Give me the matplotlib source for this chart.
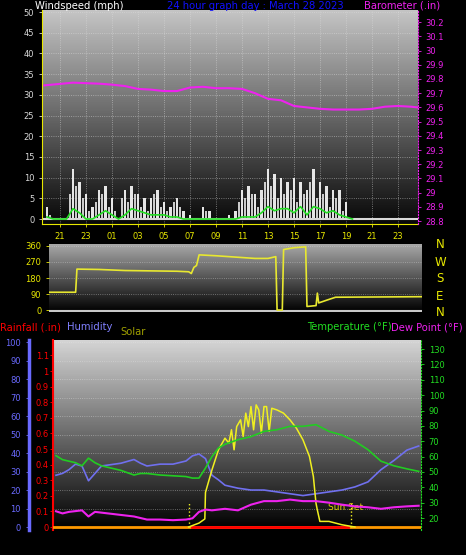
import numpy as np
import matplotlib
matplotlib.use("Agg")
import matplotlib.pyplot as plt
from matplotlib.colors import LinearSegmentedColormap

# ---- data (hours; 24 = midnight, 48 = next midnight) ----
baro_t = [19.8, 22, 24, 25, 26, 27, 28, 29, 30, 31, 32, 33, 34, 35, 36, 37, 38,
          39, 40, 41, 42, 43, 44, 45, 46, 47, 48, 48.5]
baro_v = [29.755, 29.774, 29.767, 29.76, 29.75, 29.73, 29.725, 29.715, 29.715,
          29.74, 29.745, 29.735, 29.735, 29.73, 29.70, 29.66, 29.65, 29.61, 29.60,
          29.59, 29.585, 29.585, 29.585, 29.59, 29.605, 29.61, 29.605, 29.6]

wind_t = list(np.arange(20, 44, 0.5))
gust = [3, 0, 0, 0, 12, 9, 6, 3, 7, 8, 5, 0, 7, 8, 6, 5, 5, 7, 4, 3, 5, 2, 1, 0,
        3, 2, 0, 0, 1, 2, 7, 8, 6, 7, 12, 11, 10, 9, 10, 9, 7, 12, 9, 8, 7, 7, 4, 0]
avg = [0.5, 0, 0, 0, 2.5, 1.5, 0, 0, 1, 2, 1, 0, 1, 2.5, 2, 1.5, 1, 1, 1, 0.5,
       0.5, 0, 0, 0, 0, 0, 0, 0, 0, 0, 0.5, 0.5, 0.5, 1.5, 3, 2, 2.5, 2.5, 1.5, 3,
       1, 3, 2.5, 1.5, 2, 1, 0.5, 0]
# intermediate (quarter-hour) gust readings
gust_mid = [1, 0, 0, 6, 8, 5, 2, 4, 6, 3, 2, 5, 4, 6, 3, 2, 6, 3, 2, 4, 3, 0, 0,
            0, 2, 0, 0, 0, 0, 4, 5, 6, 3, 9, 8, 5, 6, 7, 4, 6, 9, 5, 6, 3, 5, 2, 0, 0]

dir_t = [20.2, 22.2, 22.3, 24, 26, 28, 30, 30.9, 31.1, 31.3, 31.5, 31.7, 33, 34,
         35, 36, 37, 37.6, 37.7, 38.1, 38.2, 39, 39.9, 40.0, 40.7, 40.8, 40.9,
         41.5, 42.2, 48.85]
dir_v = [100, 100, 230, 228, 222, 220, 218, 215, 205, 240, 250, 310, 305, 300,
         295, 290, 290, 300, 0, 0, 340, 350, 355, 20, 25, 95, 40, 55, 72, 75]

clim_t = [20, 20.5, 21, 21.5, 22, 22.5, 23, 23.5, 24, 25, 26, 26.5, 27, 28, 29,
          30, 30.5, 31, 31.5, 32, 32.5, 33, 34, 35, 36, 37, 38, 39, 40, 40.5, 41,
          42, 43, 44, 45, 46, 47, 47.9]
humidity = [28, 29, 31, 34, 33, 25, 29, 33, 33.5, 34.5, 36.5, 34.5, 33, 34, 34,
            35.7, 38.5, 39.5, 37, 28, 25.5, 22.6, 21, 20, 20, 19, 18, 17, 18, 18.5,
            19, 20, 21.7, 24.4, 31, 36, 41.6, 43.8]
temperature = [60.6, 58, 57, 56, 54, 59, 56, 54, 53, 51, 48, 49, 49, 48, 47.5,
               47, 46, 46, 52.5, 60, 65.6, 68, 71, 73, 76.4, 77.5, 79.7, 79.7,
               80.8, 78.6, 76.4, 74, 70, 64.5, 57, 54, 52, 50.4]
dewpoint = [24.4, 23, 24, 24.5, 25, 21, 24, 23.5, 23, 22, 21, 20, 19, 19, 18.6,
            19, 19.8, 24, 25.5, 25, 25.5, 26, 25, 28.7, 31, 31, 32, 31, 31, 30.5,
            30, 28.7, 27.6, 27, 26, 27, 27.6, 28]

solar_t = [30.2, 31.0, 31.45, 31.5, 32.0, 32.5, 33.0, 33.3, 33.5, 33.7, 33.9,
           34.2, 34.4, 34.6, 34.8, 35.0, 35.2, 35.4, 35.6, 35.8, 36.0, 36.2,
           36.4, 36.6, 37.0, 37.5, 38.0, 38.5, 39.0, 39.5, 39.8, 40.0, 40.1,
           40.3, 41.0, 42.0, 43.0]
solar = [0, 21, 43, 185, 306, 413, 475, 448, 520, 413, 537, 573, 484, 609, 537,
         644, 520, 653, 626, 502, 644, 644, 511, 635, 626, 609, 573, 528, 466,
         377, 270, 128, 93, 30, 30, 12, 0]

rain_t = [19.8, 48.0]
rain = [0, 0]
sun_rise, sun_set = 30.2, 42.7

hour_ticks = list(range(21, 48, 2))
hour_labels = ["%02d" % (h % 24) for h in hour_ticks]

W, H = 466, 555
fig = plt.figure(figsize=(W / 100, H / 100), dpi=100, facecolor="black")
plt.rcParams["font.family"] = ["DejaVu Sans"]
FS = 6
TF = 7.2


def box(x0, y0, x1, y1):
    return fig.add_axes([x0 / W, 1 - y1 / H, (x1 - x0) / W, (y1 - y0) / H])


def gradient(ax, top, bottom):
    cmap = LinearSegmentedColormap.from_list("g", [bottom, top])
    x0, x1 = ax.get_xlim()
    y0, y1 = ax.get_ylim()
    ax.imshow(np.linspace(0, 1, 100)[:, None], extent=[x0, x1, y0, y1],
              origin="lower", aspect="auto", cmap=cmap, zorder=0)


def style(ax):
    for s in ax.spines.values():
        s.set_visible(False)
    ax.tick_params(colors="white", labelsize=FS, length=2, width=0.6)


# ---- top: wind & barometer ----
ax1 = box(42, 10, 418, 224)
ax1.set_xlim(19.615, 48.54)
ax1.set_ylim(-1.2, 50.5)
gradient(ax1, "#c4c4c4", "#080808")
style(ax1)
ax1.bar(wind_t, gust, width=0.18, color="#f2f2f2", alpha=0.95, zorder=2)
ax1.bar(np.array(wind_t) + 0.25, gust_mid, width=0.18, color="#e0e0e0", alpha=0.9, zorder=2)
ax1.plot(wind_t, avg, color="#22dd22", lw=1.2, zorder=3)
ax1.axhline(0, color="#d8d8d8", lw=1.5, zorder=2)
ax1.set_yticks(range(0, 51, 5))
ax1.tick_params(axis="y", colors="#d8d8d8", labelcolor="#d8d8d8")
ax1.set_xticks(hour_ticks)
ax1.set_xticklabels(hour_labels, color="#e8e800")
ax1.tick_params(axis="x", colors="#e8e800", pad=4)
ax1.grid(True, color="#e0e0e0", ls=":", lw=0.6, alpha=0.6)
ax1.spines["left"].set_visible(True)
ax1.spines["left"].set_color("#e8e800")
ax1.spines["bottom"].set_visible(True)
ax1.spines["bottom"].set_color("#e8e800")
ax1b = ax1.twinx()
ax1b.set_ylim(28.78, 30.285)
style(ax1b)
ax1b.plot(baro_t, baro_v, color="#ee22ee", lw=1.5)
bt = np.round(np.arange(28.8, 30.21, 0.1), 1)
ax1b.set_yticks(bt)
ax1b.set_yticklabels(["%g" % v for v in bt])
ax1b.tick_params(axis="y", colors="#ee22ee", labelcolor="#ee22ee")
ax1b.spines["right"].set_visible(True)
ax1b.spines["right"].set_color("#ee22ee")
ax1b.spines["right"].set_linestyle(":")

fig.text(35 / W, 1 - 6 / H, "Windspeed (mph)", color="white", fontsize=TF, va="center")
fig.text(255 / W, 1 - 6 / H, "24 hour graph day : March 28 2023", color="#1010ff",
         fontsize=TF, va="center", ha="center")
fig.text(440 / W, 1 - 6 / H, "Barometer (.in)", color="#ee22ee", fontsize=TF,
         va="center", ha="right")

# ---- middle: wind direction ----
ax2 = box(49, 244, 422, 312)
ax2.set_xlim(20.15, 48.85)
ax2.set_ylim(-11, 371)
gradient(ax2, "#a8a8a8", "#000000")
style(ax2)
ax2.plot(dir_t, dir_v, color="#e8e830", lw=1.2, zorder=3)
ax2.axhline(-4, color="#c8c8c8", lw=1.5, zorder=2)
ax2.set_yticks([0, 90, 180, 270, 360])
ax2.tick_params(axis="y", colors="#e8e800", labelcolor="#e8e800")
ax2.set_xticks([])
ax2.grid(True, axis="y", color="#e0e0e0", ls=":", lw=0.6, alpha=0.5)
for lbl, y in zip(["N", "W", "S", "E", "N"], [245, 262, 279, 296, 313]):
    fig.text(440 / W, 1 - y / H, lbl, color="#e8e800", fontsize=8.5, ha="center", va="center")

# ---- bottom: rain, humidity, solar, temperature, dew point ----
fig.text(0, 1 - 328 / H, "Rainfall (.in)", color="red", fontsize=TF, va="center")
fig.text(67 / W, 1 - 327 / H, "Humidity", color="#8080ff", fontsize=TF, va="center")
fig.text(120 / W, 1 - 332 / H, "Solar", color="#a0a000", fontsize=TF, va="center")
fig.text(392 / W, 1 - 327 / H, "Temperature (°F)", color="#22dd22", fontsize=TF,
         va="center", ha="right")
fig.text(463 / W, 1 - 327 / H, "Dew Point (°F)", color="#ee22ee", fontsize=TF,
         va="center", ha="right")

ax3 = box(53, 340, 421, 530)
ax3.set_xlim(19.77, 48.08)
ax3.set_ylim(12.2, 135.9)
gradient(ax3, "#d4d4d4", "#000000")
style(ax3)
ax3.set_yticks([])
ax3.set_xticks(hour_ticks)
ax3.set_xticklabels(hour_labels, color="#e8e800")
ax3.tick_params(axis="x", colors="#e8e800", length=0, pad=6)

# humidity axis (far left)
axh = ax3.twinx()
axh.set_ylim(-1.6, 101.1)
style(axh)
axh.yaxis.set_ticks_position("left")
axh.spines["left"].set_visible(True)
axh.spines["left"].set_position(("outward", 17))
axh.spines["left"].set_color("#6a6aff")
axh.spines["left"].set_linewidth(2.5)
axh.set_yticks(range(0, 101, 10))
axh.tick_params(axis="y", colors="#6a6aff", labelcolor="#6a6aff", pad=4)
axh.grid(True, axis="y", color="#e8e8e8", ls=":", lw=0.6, alpha=0.5)
axh.set_xticks([])
axh.plot(clim_t, humidity, color="#7070ee", lw=1.2, zorder=3)

# rain axis
axr = ax3.twinx()
axr.set_ylim(-0.0192, 1.199)
style(axr)
axr.yaxis.set_ticks_position("left")
axr.spines["left"].set_visible(True)
axr.spines["left"].set_color("red")
axr.spines["left"].set_linestyle((0, (2, 1)))
axr.spines["left"].set_linewidth(1.5)
rt = np.round(np.arange(0, 1.11, 0.1), 1)
axr.set_yticks(rt)
axr.set_yticklabels(["%g" % v for v in rt])
axr.tick_params(axis="y", colors="red", labelcolor="red", pad=1)
axr.plot(rain_t, rain, color="#ff9900", lw=2, zorder=3)
axr.plot([30.5, 42.5], [0, 0], color="red", lw=2, zorder=4)

# solar
axs = ax3.twinx()
axs.set_ylim(-16, 1000)
axs.axis("off")
axs.plot(solar_t, solar, color="#f0f020", lw=1.1, zorder=3)
for t in (sun_rise, sun_set):
    axs.plot([t, t], [0, 130], color="#f0f020", ls=":", lw=1)
axs.text(sun_set - 0.4, 105, "Sun Set", color="#e8d800", fontsize=6.5, ha="center", va="center")

# temperature / dew point axis (right)
axt = ax3.twinx()
axt.set_ylim(12.2, 135.9)
style(axt)
axt.spines["right"].set_visible(True)
axt.spines["right"].set_color("#22dd22")
axt.spines["right"].set_linestyle(":")
axt.set_yticks(range(20, 131, 10))
axt.tick_params(axis="y", colors="#22dd22", labelcolor="#22dd22")
axt.plot(clim_t, temperature, color="#22cc22", lw=1.2, zorder=3)
axt.plot(clim_t, dewpoint, color="#ee22ee", lw=1.5, zorder=3)

fig.savefig("out.png", dpi=100, facecolor="black")
